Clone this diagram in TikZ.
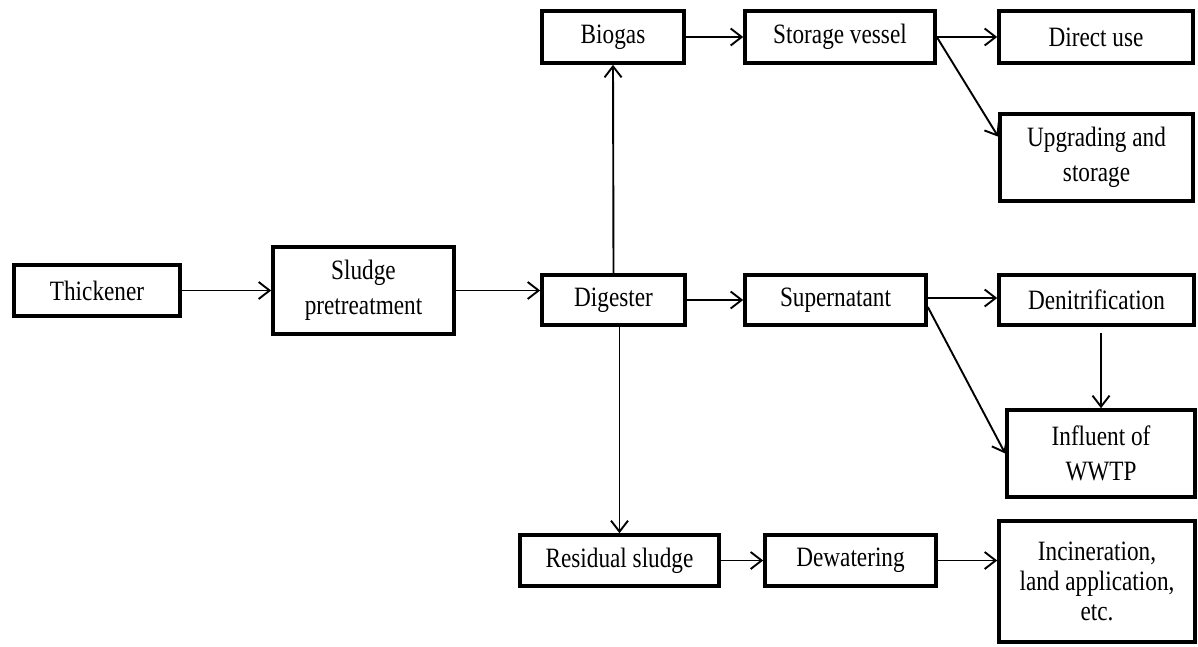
\documentclass[tikz,border=0pt]{standalone}
\usepackage{fontspec}
\setmainfont[FakeStretch=0.83]{Liberation Serif}
\usetikzlibrary{arrows.meta,calc}
\begin{document}
\begin{tikzpicture}[x=1pt,y=-1pt,
  stage/.style={draw, line width=3.6pt, inner sep=0pt, align=center,
    font=\fontsize{28}{35}\selectfont},
  flow/.style={line width=1.9pt, -{Straight Barb[length=11pt,width=17pt,line width=1.9pt]}}]
\useasboundingbox (0,0) rectangle (1198,647);

% process stages
\node[stage, minimum width=166, minimum height=51] (thick) at (97,290.5) {Thickener};
\node[stage, minimum width=181, minimum height=87] (pre) at (363.5,290.5) {Sludge\\pretreatment};
\node[stage, minimum width=143, minimum height=50] (dig) at (613.5,300) {Digester};
\node[stage, minimum width=142, minimum height=52] (bio) at (613,37) {Biogas};
\node[stage, minimum width=190, minimum height=52] (sto) at (840,37) {Storage vessel};
\node[stage, minimum width=194, minimum height=52] (dir) at (1096,37) {Direct use};
\node[stage, minimum width=193, minimum height=87] (upg) at (1096.5,157.5) {Upgrading and\\storage};
\node[stage, minimum width=181, minimum height=50] (sup) at (835.5,300) {Supernatant};
\node[stage, minimum width=195, minimum height=50] (den) at (1096.5,300) {Denitrification};
\node[stage, minimum width=188, minimum height=87] (inf) at (1101,453.5) {Influent of\\WWTP};
\node[stage, minimum width=199, minimum height=51] (res) at (619.5,560.5) {Residual sludge};
\node[stage, minimum width=171, minimum height=51] (dew) at (850.5,560.5) {Dewatering};
\node[stage, minimum width=196, minimum height=121,
  font=\fontsize{28}{30}\selectfont] (inc) at (1097,581.5) {Incineration,\\land application,\\etc.};

% connectors
\draw[flow] (thick.east) -- (pre.west);
\draw[flow] (pre.east) -- (pre.east -| dig.west);
\draw[flow] (dig.north) -- (bio.south);
\draw[flow] (res.north |- dig.south) -- (res.north);
\draw[flow] (dig.east) -- (sup.west);
\draw[flow] (bio.east) -- (sto.west);
\draw[flow] (sto.east) -- (dir.west);
\draw[flow] (sto.east) -- ($(upg.north west)!0.27!(upg.south west)$);
\draw[flow] ($(sup.east)+(0,-2)$) -- ($(den.west)+(0,-2)$);
\draw[flow] ($(sup.east)+(0,7)$) -- (inf.west);
\draw[flow, shorten <=6pt] (inf.north |- den.south) -- (inf.north);
\draw[flow] (res.east) -- (dew.west);
\draw[flow] (dew.east) -- (dew.east -| inc.west);
\end{tikzpicture}
\end{document}
